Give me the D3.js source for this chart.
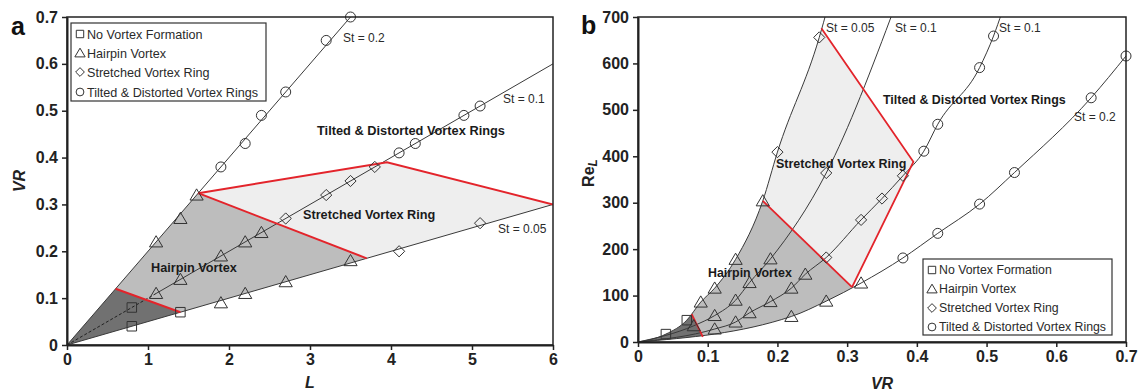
<!DOCTYPE html>
<html>
<head>
<meta charset="utf-8">
<script src="https://cdn.jsdelivr.net/npm/d3@7"></script>
<style>
  html, body { margin: 0; padding: 0; background: #fff; }
  svg text { font-family: "Liberation Sans", Arial, sans-serif; }
</style>
</head>
<body>
<svg id="chart" width="1142" height="391"></svg>
<script>
// ---------- Panel a : VR against L ----------
const aXTicks = [0, 1, 2, 3, 4, 5, 6];
const aXTickLabels = ["0", "1", "2", "3", "4", "5", "6"];
const aYTicks = [0, 0.1, 0.2, 0.3, 0.4, 0.5, 0.6, 0.7];
const aYTickLabels = ["0", "0.1", "0.2", "0.3", "0.4", "0.5", "0.6", "0.7"];

// constant-Strouhal lines (VR = St * L), start and end points
const aStLines = [
  { label: "St = 0.2",  from: [0, 0],     to: [3.5, 0.7] },
  { label: "St = 0.1",  from: [1.1, 0.11], to: [6, 0.6] },
  { label: "St = 0.05", from: [0, 0],     to: [6, 0.3] }
];
const aDashed = [[0, 0], [1.1, 0.11]];

const aSquares   = [[0.8, 0.08], [0.8, 0.04], [1.4, 0.07]];
const aTriangles = [[1.1, 0.22], [1.4, 0.27], [1.6, 0.32], [1.1, 0.11], [1.4, 0.14], [1.9, 0.19],
                    [2.2, 0.22], [2.4, 0.24], [1.9, 0.09], [2.2, 0.11], [2.7, 0.135], [3.5, 0.18]];
const aDiamonds  = [[2.7, 0.27], [3.2, 0.32], [3.5, 0.35], [3.8, 0.38], [4.1, 0.2], [5.1, 0.26]];
const aCircles   = [[1.9, 0.38], [2.2, 0.43], [2.4, 0.49], [2.7, 0.54], [3.2, 0.65], [3.5, 0.7],
                    [4.1, 0.41], [4.3, 0.43], [4.9, 0.49], [5.1, 0.51]];

// regime regions and their red boundaries
const aRegionDark   = [[0, 0], [0.6, 0.12], [1.4, 0.07]];
const aRegionMedium = [[0.6, 0.12], [1.62, 0.324], [3.7, 0.185], [1.4, 0.07]];
const aRegionLight  = [[1.62, 0.324], [3.95, 0.39], [6, 0.3], [3.7, 0.185]];
const aRedLines = [
  [[0.6, 0.12], [1.4, 0.07]],
  [[1.62, 0.324], [3.7, 0.185]],
  [[1.62, 0.324], [3.95, 0.39], [6, 0.3]]
];

// ---------- Panel b : Re_L against VR ----------
const bXTicks = [0, 0.1, 0.2, 0.3, 0.4, 0.5, 0.6, 0.7];
const bXTickLabels = ["0", "0.1", "0.2", "0.3", "0.4", "0.5", "0.6", "0.7"];
const bYTicks = [0, 100, 200, 300, 400, 500, 600, 700];
const bYTickLabels = ["0", "100", "200", "300", "400", "500", "600", "700"];

// each curve: [VR, Re_L, marker] (marker: s square, t triangle, d diamond, c circle)
const bCurveA = [[0, 0, ""], [0.04, 17, "s"], [0.07, 47, "s"], [0.09, 86, "t"], [0.11, 116, "t"],
                 [0.14, 178, "t"], [0.179, 304, "t"], [0.2, 409, "d"], [0.26, 656, "d"], [0.272, 720, ""]];
const bCurveB = [[0, 0, ""], [0.08, 35, "t"], [0.11, 57, "t"], [0.14, 90, "t"], [0.16, 128, "t"],
                 [0.19, 179, "t"], [0.27, 364, "d"], [0.368, 720, ""]];
const bCurveC = [[0, 0, ""], [0.11, 28, "t"], [0.14, 43, "t"], [0.16, 63, "t"], [0.19, 87, "t"],
                 [0.22, 116, "t"], [0.24, 146, "t"], [0.27, 182, "d"], [0.32, 263, "d"], [0.35, 309, "d"],
                 [0.38, 358, "d"], [0.41, 411, "c"], [0.43, 469, "c"], [0.49, 591, "c"], [0.51, 659, "c"],
                 [0.522, 710, ""]];
const bCurveD = [[0, 0, ""], [0.22, 55, "t"], [0.27, 88, "t"], [0.32, 127, "t"], [0.38, 181, "c"],
                 [0.43, 234, "c"], [0.49, 297, "c"], [0.54, 365, "c"], [0.65, 526, "c"], [0.7, 616, "c"]];
const bCurves = [bCurveA, bCurveB, bCurveC, bCurveD];

const bRedLines = [
  [[0.077, 60], [0.093, 11]],
  [[0.179, 304], [0.307, 118]],
  [[0.263, 676], [0.395, 388], [0.307, 118]]
];

const legendItems = [
  { mark: "s", text: "No Vortex Formation" },
  { mark: "t", text: "Hairpin Vortex" },
  { mark: "d", text: "Stretched Vortex Ring" },
  { mark: "c", text: "Tilted & Distorted Vortex Rings" }
];

// ---------- shared styling ----------
const INK = "#222";
const LINE = "#3a3a3a";
const RED = "#e3242b";
const FILL_DARK = "#717171", FILL_MED = "#bdbdbd", FILL_LIGHT = "#eeeeee";

const markerPath = {
  s: k => `M${-4.75 * k},${-4.75 * k}h${9.5 * k}v${9.5 * k}h${-9.5 * k}Z`,
  t: k => `M0,${-6.2 * k}L${6.6 * k},${5 * k}L${-6.6 * k},${5 * k}Z`,
  d: k => `M0,${-5.6 * k}L${5.6 * k},0L0,${5.6 * k}L${-5.6 * k},0Z`,
  c: k => `M${-5 * k},0a${5 * k},${5 * k} 0 1,0 ${10 * k},0a${5 * k},${5 * k} 0 1,0 ${-10 * k},0Z`
};

const svg = d3.select("#chart");
const defs = svg.append("defs");

function drawAxes(g, x, y, xt, xl, yt, yl) {
  const ax = g.append("g").attr("transform", `translate(0,${y.range()[0]})`)
    .call(d3.axisBottom(x).tickValues(xt).tickFormat((d, i) => xl[i]).tickSize(5).tickSizeOuter(0).tickPadding(4));
  const ay = g.append("g").attr("transform", `translate(${x.range()[0]},0)`)
    .call(d3.axisLeft(y).tickValues(yt).tickFormat((d, i) => yl[i]).tickSize(5).tickSizeOuter(0).tickPadding(4));
  [ax, ay].forEach(a => {
    a.selectAll("path.domain").attr("stroke", INK).attr("stroke-width", 2);
    a.selectAll(".tick line").attr("stroke", INK).attr("stroke-width", 1.5);
    a.selectAll("text").attr("font-size", 16).attr("font-weight", "bold").attr("fill", INK)
      .attr("font-family", '"Liberation Sans", Arial, sans-serif');
  });
  g.append("rect")
    .attr("x", x.range()[0]).attr("y", y.range()[1])
    .attr("width", x.range()[1] - x.range()[0]).attr("height", y.range()[0] - y.range()[1])
    .attr("fill", "none").attr("stroke", INK).attr("stroke-width", 1.5);
}

function drawMarkers(g, pts, type, x, y) {
  g.selectAll(null).data(pts).enter().append("path")
    .attr("d", markerPath[type](1))
    .attr("transform", d => `translate(${x(d[0])},${y(d[1])})`)
    .attr("fill", "none").attr("stroke", "#333").attr("stroke-width", 1);
}

function drawLegend(g, x0, y0, w, h, rowY, k, fs) {
  g.append("rect").attr("x", x0).attr("y", y0).attr("width", w).attr("height", h)
    .attr("fill", "#fff").attr("stroke", "#333").attr("stroke-width", 1.2);
  legendItems.forEach((it, i) => {
    g.append("path").attr("d", markerPath[it.mark](k))
      .attr("transform", `translate(${x0 + 9},${rowY[i]})`)
      .attr("fill", "none").attr("stroke", "#333").attr("stroke-width", 1);
    g.append("text").attr("x", x0 + 16).attr("y", rowY[i]).attr("dy", "0.36em")
      .attr("font-size", fs).attr("fill", "#2a2a2a").text(it.text);
  });
}

function regionLabel(g, x, y, text, fs) {
  g.append("text").attr("x", x).attr("y", y).attr("dy", "0.36em")
    .attr("font-size", fs).attr("font-weight", "bold").attr("fill", "#1a1a1a").text(text);
}

function plainLabel(g, x, y, text) {
  g.append("text").attr("x", x).attr("y", y).attr("dy", "0.36em")
    .attr("font-size", 12).attr("fill", "#2a2a2a").text(text);
}

// ================= Panel a =================
{
  const x = d3.scaleLinear([0, 6], [67, 553]);
  const y = d3.scaleLinear([0, 0.7], [345, 17]);
  const g = svg.append("g");
  const line = d3.line(d => x(d[0]), d => y(d[1]));

  defs.append("clipPath").attr("id", "clipA").append("rect")
    .attr("x", 67).attr("y", 17).attr("width", 486).attr("height", 328);
  const plot = g.append("g").attr("clip-path", "url(#clipA)");

  [[aRegionDark, FILL_DARK], [aRegionMedium, FILL_MED], [aRegionLight, FILL_LIGHT]].forEach(([poly, c]) => {
    plot.append("path").attr("d", line(poly) + "Z").attr("fill", c);
  });

  aStLines.forEach(s => {
    plot.append("path").attr("d", line([s.from, s.to]))
      .attr("stroke", LINE).attr("stroke-width", 1).attr("fill", "none");
  });
  plot.append("path").attr("d", line(aDashed))
    .attr("stroke", "#222").attr("stroke-width", 1).attr("stroke-dasharray", "3,2").attr("fill", "none");

  aRedLines.forEach(r => {
    plot.append("path").attr("d", line(r))
      .attr("stroke", RED).attr("stroke-width", 2).attr("fill", "none");
  });

  drawMarkers(g, aSquares, "s", x, y);
  drawMarkers(g, aTriangles, "t", x, y);
  drawMarkers(g, aDiamonds, "d", x, y);
  drawMarkers(g, aCircles, "c", x, y);

  drawAxes(g, x, y, aXTicks, aXTickLabels, aYTicks, aYTickLabels);

  regionLabel(g, 151, 267, "Hairpin Vortex", 12.7);
  regionLabel(g, 303, 214, "Stretched Vortex Ring", 12.7);
  regionLabel(g, 317, 130, "Tilted & Distorted Vortex Rings", 12.8);

  plainLabel(g, 343, 38, aStLines[0].label);
  plainLabel(g, 503, 99, aStLines[1].label);
  plainLabel(g, 498, 229, aStLines[2].label);

  drawLegend(g, 71, 23, 195, 78, [34, 53, 72, 92], 0.78, 12.6);

  g.append("text").attr("x", 310).attr("y", 388)
    .attr("text-anchor", "middle").attr("font-size", 16).attr("font-weight", "bold")
    .attr("font-style", "italic").attr("fill", INK).text("L");
  g.append("text").attr("transform", "translate(25,181) rotate(-90)")
    .attr("text-anchor", "middle").attr("font-size", 16).attr("font-weight", "bold")
    .attr("font-style", "italic").attr("fill", INK).text("VR");
  g.append("text").attr("x", 11).attr("y", 35).attr("font-size", 25).attr("font-weight", "bold")
    .attr("fill", "#111").text("a");
}

// ================= Panel b =================
{
  const x = d3.scaleLinear([0, 0.7], [638, 1126]);
  const y = d3.scaleLinear([0, 700], [342, 17]);
  const g = svg.append("g");
  const curve = d3.line(d => x(d[0]), d => y(d[1])).curve(d3.curveMonotoneX);
  const straight = d3.line(d => x(d[0]), d => y(d[1]));

  defs.append("clipPath").attr("id", "clipB").append("rect")
    .attr("x", 638).attr("y", 17).attr("width", 488).attr("height", 325);

  // wedge between the outermost curves: right of the first, above the last
  defs.append("clipPath").attr("id", "rightOfA").append("path")
    .attr("d", curve(bCurveA) + `L${x(1)},${y(720)}L${x(1)},${y(-100)}L${x(-0.1)},${y(-100)}Z`);
  defs.append("clipPath").attr("id", "aboveD").append("path")
    .attr("d", curve(bCurveD) + `L${x(0.7)},${y(2000)}L${x(-0.1)},${y(2000)}L${x(-0.1)},${y(0)}Z`);

  const plot = g.append("g").attr("clip-path", "url(#clipB)");
  const wedge = plot.append("g").attr("clip-path", "url(#rightOfA)")
    .append("g").attr("clip-path", "url(#aboveD)");

  // region polygons are cut by the red boundaries, extended past the wedge
  const P = d => [x(d[0]), y(d[1])];
  const ext = (p, q, t) => [p[0] + t * (p[0] - q[0]), p[1] + t * (p[1] - q[1])];
  const r4a = P(bRedLines[0][0]), r4b = P(bRedLines[0][1]);
  const r1a = P(bRedLines[1][0]), r1b = P(bRedLines[1][1]);
  const r3a = P(bRedLines[2][0]), apex = P(bRedLines[2][1]);
  const r4aE = ext(r4a, r4b, 1), r4bE = ext(r4b, r4a, 1);
  const r1aE = ext(r1a, r1b, 0.5), r1bE = ext(r1b, r1a, 0.5);
  const r3aE = ext(r3a, apex, 0.3);
  const poly = pts => "M" + pts.map(p => p.join(",")).join("L") + "Z";

  wedge.append("path").attr("d", poly([r4aE, r4bE, [600, r4bE[1]], [600, r4aE[1]]])).attr("fill", FILL_DARK);
  wedge.append("path").attr("d", poly([r4aE, r4bE, r1bE, r1aE])).attr("fill", FILL_MED);
  wedge.append("path").attr("d", poly([r1aE, r3aE, apex, r1b])).attr("fill", FILL_LIGHT);

  bCurves.forEach(c => {
    plot.append("path").attr("d", curve(c))
      .attr("stroke", LINE).attr("stroke-width", 1).attr("fill", "none");
  });

  bRedLines.forEach(r => {
    plot.append("path").attr("d", straight(r))
      .attr("stroke", RED).attr("stroke-width", 1.8).attr("fill", "none");
  });

  bCurves.forEach(c => {
    ["s", "t", "d", "c"].forEach(m => drawMarkers(g, c.filter(p => p[2] === m), m, x, y));
  });

  drawAxes(g, x, y, bXTicks, bXTickLabels, bYTicks, bYTickLabels);

  regionLabel(g, 708, 273, "Hairpin Vortex", 12.4);
  regionLabel(g, 776, 163, "Stretched Vortex Ring", 12.5);
  regionLabel(g, 883, 100, "Tilted & Distorted Vortex Rings", 12.45);

  plainLabel(g, 826, 28, "St = 0.05");
  plainLabel(g, 895, 28, "St = 0.1");
  plainLabel(g, 999, 28, "St = 0.1");
  plainLabel(g, 1074, 117, "St = 0.2");

  drawLegend(g, 923, 259, 189, 76, [270, 289, 308, 327], 0.78, 12.3);

  g.append("text").attr("x", 882).attr("y", 389)
    .attr("text-anchor", "middle").attr("font-size", 16).attr("font-weight", "bold")
    .attr("font-style", "italic").attr("fill", INK).text("VR");
  const yl = g.append("text").attr("transform", "translate(594,173) rotate(-90)")
    .attr("text-anchor", "middle").attr("font-size", 16).attr("font-weight", "bold").attr("fill", INK);
  yl.append("tspan").text("Re");
  yl.append("tspan").attr("font-size", 12).attr("font-style", "italic").attr("dy", 3).text("L");
  g.append("text").attr("x", 581).attr("y", 34).attr("font-size", 25).attr("font-weight", "bold")
    .attr("fill", "#111").text("b");
}
</script>
</body>
</html>
